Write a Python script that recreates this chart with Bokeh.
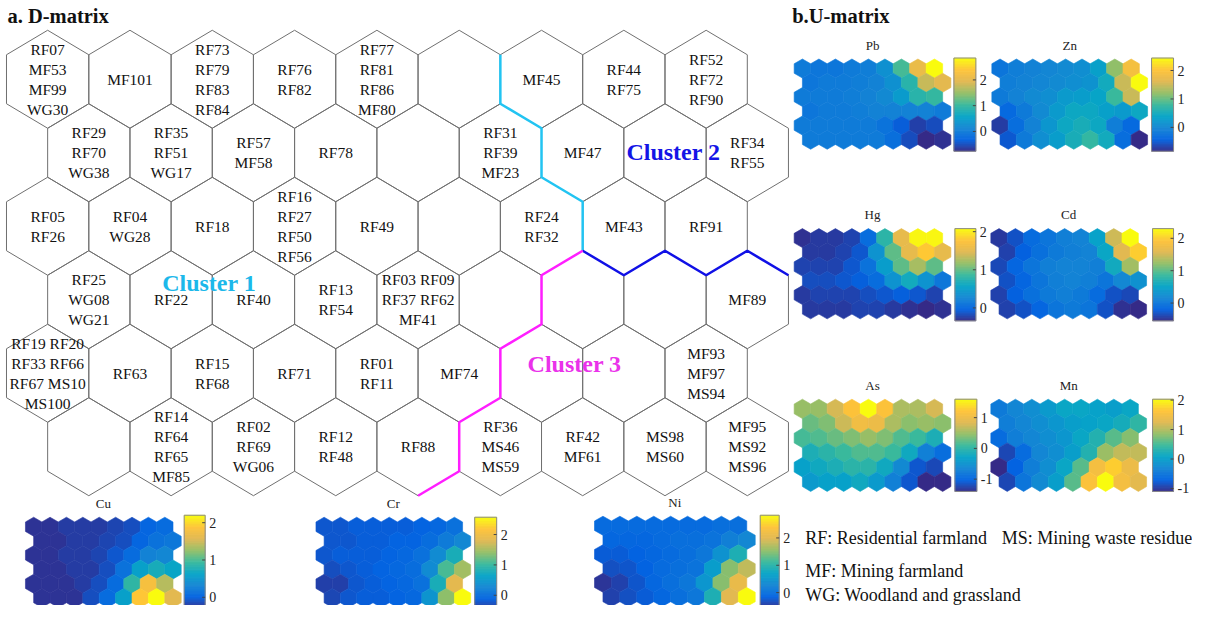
import numpy as np
from bokeh.plotting import figure
from bokeh.models import Range1d, ColumnDataSource, LinearColorMapper
from bokeh.transform import transform
from bokeh.core.properties import value
from bokeh.embed import file_html
from bokeh.resources import INLINE

# ---------------- data ----------------
D_LABELS = [
    ["RF07\nMF53\nMF99\nWG30", "MF101", "RF73\nRF79\nRF83\nRF84", "RF76\nRF82",
     "RF77\nRF81\nRF86\nMF80", "", "MF45", "RF44\nRF75", "RF52\nRF72\nRF90"],
    ["RF29\nRF70\nWG38", "RF35\nRF51\nWG17", "RF57\nMF58", "RF78", "",
     "RF31\nRF39\nMF23", "MF47", "", "RF34\nRF55"],
    ["RF05\nRF26", "RF04\nWG28", "RF18", "RF16\nRF27\nRF50\nRF56", "RF49", "",
     "RF24\nRF32", "MF43", "RF91"],
    ["RF25\nWG08\nWG21", "RF22", "RF40", "RF13\nRF54", "RF03 RF09\nRF37 RF62\nMF41",
     "", "", "", "MF89"],
    ["RF19 RF20\nRF33 RF66\nRF67 MS10\nMS100", "RF63", "RF15\nRF68", "RF71",
     "RF01\nRF11", "MF74", "", "", "MF93\nMF97\nMS94"],
    ["", "RF14\nRF64\nRF65\nMF85", "RF02\nRF69\nWG06", "RF12\nRF48", "RF88",
     "RF36\nMS46\nMS59", "RF42\nMF61", "MS98\nMS60", "MF95\nMS92\nMS96"],
]

CLUSTER_NAMES = ["Cluster 1", "Cluster 2", "Cluster 3"]

ELEMENTS = ["Pb", "Zn", "Hg", "Cd", "As", "Mn", "Cu", "Cr", "Ni"]

PB = [[0.0, -0.05, -0.05, 0.0, 0.05, 0.3, 1.1, 2.1, 2.85],
      [-0.05, 0.0, 0.0, 0.05, 0.1, 0.3, 0.9, 1.8, 2.0],
      [0.0, 0.0, 0.0, 0.05, 0.1, 0.2, 0.45, 0.9, 1.0],
      [-0.05, 0.0, 0.0, 0.05, 0.1, 0.1, 0.1, 0.1, 0.0],
      [0.0, 0.0, 0.0, 0.0, 0.0, -0.1, -0.35, -0.6, -0.5],
      [0.0, 0.0, 0.0, 0.0, 0.0, -0.15, -0.5, -0.77, -0.7]]
ZN = [[-0.2, -0.1, -0.05, 0.0, 0.05, 0.1, 0.35, 1.2, 1.9],
      [-0.1, -0.05, 0.0, 0.05, 0.1, 0.15, 0.5, 1.5, 2.44],
      [-0.15, -0.05, 0.05, 0.1, 0.25, 0.3, 0.4, 0.8, 1.5],
      [-0.35, -0.15, 0.05, 0.25, 0.45, 0.45, 0.35, 0.25, 0.45],
      [-0.7, -0.3, -0.05, 0.2, 0.45, 0.55, 0.45, -0.1, -0.35],
      [-0.5, -0.15, 0.1, 0.3, 0.55, 0.75, 0.5, -0.3, -0.84]]
HG = [[-0.3, -0.25, -0.25, -0.2, 0.05, 0.8, 1.55, 2.05, 2.05],
      [-0.25, -0.25, -0.2, -0.1, 0.4, 1.0, 1.55, 1.8, 1.55],
      [-0.2, -0.2, -0.2, -0.1, 0.1, 0.5, 1.0, 1.25, 1.0],
      [-0.15, -0.15, -0.1, -0.05, 0.05, 0.4, 0.65, 0.4, 0.15],
      [-0.25, -0.2, -0.2, -0.2, -0.15, -0.1, -0.05, -0.1, -0.2],
      [-0.25, -0.25, -0.25, -0.2, -0.2, -0.25, -0.3, -0.34, -0.3]]
CD = [[-0.45, -0.3, -0.1, 0.0, 0.1, 0.15, 0.5, 1.5, 2.3],
      [-0.4, -0.2, -0.05, 0.05, 0.1, 0.15, 0.55, 1.6, 2.0],
      [-0.35, -0.15, 0.0, 0.1, 0.15, 0.15, 0.1, 0.6, 1.3],
      [-0.3, -0.15, 0.0, 0.1, 0.15, 0.1, 0.0, 0.2, 0.3],
      [-0.4, -0.2, -0.05, 0.05, 0.1, 0.05, -0.1, -0.3, -0.35],
      [-0.4, -0.3, -0.15, 0.0, 0.05, 0.0, -0.3, -0.5, -0.55]]
AS = [[0.5, 0.5, 0.8, 1.2, 1.6, 1.2, 0.6, 0.6, 0.8],
      [0.3, 0.4, 0.75, 1.05, 1.0, 0.6, 0.45, 0.5, 0.45],
      [0.15, 0.2, 0.3, 0.4, 0.5, 0.4, 0.2, 0.1, -0.1],
      [-0.1, 0.0, 0.1, 0.2, 0.2, 0.1, -0.2, -0.7, -0.9],
      [-0.3, -0.2, -0.1, 0.0, 0.0, -0.2, -0.6, -1.1, -1.2],
      [-0.4, -0.3, -0.3, -0.2, -0.4, -0.7, -1.1, -1.4, -1.4]]
MN = [[-0.45, -0.3, -0.2, -0.05, 0.1, 0.1, 0.05, 0.0, 0.1],
      [-0.4, -0.3, -0.2, -0.1, 0.0, 0.05, 0.1, 0.2, 0.4],
      [-0.6, -0.4, -0.3, -0.2, -0.1, 0.1, 0.3, 0.6, 0.8],
      [-0.9, -0.6, -0.3, -0.2, 0.0, 0.3, 0.9, 1.1, 1.1],
      [-1.1, -0.7, -0.4, -0.2, 0.1, 0.6, 1.5, 1.7, 1.4],
      [-0.9, -0.5, -0.25, 0.0, 0.6, 1.6, 2.03, 1.5, 1.3]]
CU = [[-0.25, -0.25, -0.2, -0.2, -0.2, -0.15, -0.1, 0.05, 0.1],
      [-0.25, -0.25, -0.2, -0.2, -0.15, -0.1, 0.05, 0.15, 0.2],
      [-0.25, -0.25, -0.2, -0.2, -0.15, -0.05, 0.1, 0.3, 0.35],
      [-0.25, -0.25, -0.2, -0.2, -0.1, 0.15, 0.6, 0.75, 0.65],
      [-0.25, -0.25, -0.25, -0.2, -0.1, 0.1, 0.9, 1.8, 1.4],
      [-0.25, -0.25, -0.25, -0.1, 0.1, 0.6, 1.9, 2.2, 1.6]]
CR = [[-0.2, -0.2, -0.15, -0.15, -0.15, -0.15, -0.1, -0.05, 0.05],
      [-0.2, -0.2, -0.15, -0.15, -0.1, -0.1, 0.0, 0.15, 0.3],
      [-0.2, -0.15, -0.15, -0.15, -0.1, -0.05, 0.05, 0.35, 0.8],
      [-0.25, -0.2, -0.15, -0.1, -0.05, 0.0, 0.35, 1.1, 1.5],
      [-0.35, -0.35, -0.2, -0.15, -0.1, -0.05, 0.05, 0.8, 1.85],
      [-0.3, -0.2, -0.15, -0.15, -0.1, -0.05, 0.45, 1.4, 2.57]]
NI = [[-0.05, -0.05, -0.05, -0.05, -0.05, -0.05, -0.05, 0.0, 0.0],
      [-0.1, -0.1, -0.1, -0.05, 0.0, 0.0, 0.05, 0.2, 0.3],
      [-0.2, -0.2, -0.15, -0.1, -0.05, 0.0, 0.1, 0.45, 0.9],
      [-0.3, -0.25, -0.15, -0.05, 0.0, 0.05, 0.6, 1.5, 1.8],
      [-0.5, -0.4, -0.25, -0.1, 0.0, 0.1, 0.5, 1.5, 2.1],
      [-0.4, -0.3, -0.2, -0.1, 0.0, 0.1, 0.9, 2.0, 2.83]]
VALUES = [PB, ZN, HG, CD, AS, MN, CU, CR, NI]

CB_LOW = [-0.77, -0.84, -0.34, -0.55, -1.4, -1.1, -0.3, -0.5, -0.58]
CB_HIGH = [2.85, 2.44, 2.08, 2.3, 1.6, 2.03, 2.2, 2.57, 2.83]
CB_TICKS = [[0, 1, 2], [0, 1, 2], [0, 1, 2], [0, 1, 2], [-1, 0, 1],
            [-1, 0, 1, 2], [0, 1, 2], [0, 1, 2], [0, 1, 2]]

LEGEND_TEXTS = ["RF: Residential farmland", "MS: Mining waste residue",
                "MF: Mining farmland", "WG: Woodland and grassland"]

# ---------------- layout (pixel positions of the reference) ----------------
MAP_BOX = [(797, 61, 157, 91), (995, 61, 156, 91), (797, 232, 157, 91),
           (994, 232, 156, 91), (797, 404, 157, 93), (994, 404, 156, 93),
           (27, 523, 156, 91), (318, 523, 155, 91), (597, 522, 161, 91)]
CB_BOX = [(957, 979, 60, 154), (1155, 1177, 60, 154), (958, 979, 232, 325),
          (1156, 1177, 232, 325), (958, 980, 404, 497), (1156, 1177, 404, 497),
          (186, 207, 521, 615), (477, 499, 523, 617), (763, 782, 521, 615)]

SERIF = "Liberation Serif"

# parula-like palette
anchors = [(0.0, (53, 42, 135)), (0.125, (3, 99, 225)), (0.25, (20, 133, 212)),
           (0.375, (6, 164, 200)), (0.5, (56, 185, 157)), (0.625, (146, 191, 104)),
           (0.75, (224, 184, 82)), (0.875, (254, 195, 56)), (1.0, (249, 251, 14))]
at = np.array([a[0] for a in anchors])
ac = np.array([a[1] for a in anchors], dtype=float)
PARULA = []
for t in np.linspace(0, 1, 256):
    r = np.interp(t, at, ac[:, 0]); g = np.interp(t, at, ac[:, 1]); b = np.interp(t, at, ac[:, 2])
    PARULA.append("#%02x%02x%02x" % (int(round(r)), int(round(g)), int(round(b))))


def hex_poly(cx, cy, w, s):
    hw = w / 2.0
    xs = [cx, cx + hw, cx + hw, cx, cx - hw, cx - hw]
    ys = [cy - s, cy - s / 2, cy + s / 2, cy + s, cy + s / 2, cy - s / 2]
    return xs, ys


def hex_center(r, c, x0, y0, w, s):
    cx = x0 + w / 2 + c * w + (w / 2 if r % 2 else 0)
    cy = y0 + s + r * 1.5 * s
    return cx, cy


p = figure(width=1192, height=605, x_range=Range1d(2, 1196), y_range=Range1d(612, 2),
           output_backend="svg", toolbar_location=None, min_border=0,
           x_axis_type=None, y_axis_type=None)
p.outline_line_color = None
p.xgrid.grid_line_color = None
p.ygrid.grid_line_color = None

# ---------------- D-matrix ----------------
DX0, DY0, DW, DS = 8, 32, 82.45, 49.4
hx, hy, tx, ty, tt = [], [], [], [], []
for r, row in enumerate(D_LABELS):
    for c, lab in enumerate(row):
        cx, cy = hex_center(r, c, DX0, DY0, DW, DS)
        xs, ys = hex_poly(cx, cy, DW, DS)
        hx.append(xs); hy.append(ys)
        if lab:
            tx.append(cx); ty.append(cy); tt.append(lab)
p.patches(hx, hy, fill_color=None, line_color="#707070", line_width=1)
p.text(tx, ty, text=tt, text_font=value(SERIF), text_font_size="15.5px",
       text_align="center", text_baseline="middle", text_color="#111111",
       text_line_height=1.17)


def vert(r, c, k):
    cx, cy = hex_center(r, c, DX0, DY0, DW, DS)
    xs, ys = hex_poly(cx, cy, DW, DS)
    return xs[k], ys[k]


# cluster boundaries as (row, col, vertex) along hex edges
CYAN_PATH = [(0, 6, 5), (0, 6, 4), (0, 6, 3), (1, 6, 4), (1, 6, 3), (2, 7, 4)]
BLUE_PATH = [(2, 7, 4), (2, 7, 3), (2, 7, 2), (2, 8, 3), (2, 8, 2), (3, 8, 1)]
MAGENTA_PATH = [(2, 7, 4), (2, 6, 3), (3, 5, 2), (3, 5, 3), (4, 5, 2), (4, 5, 3),
                (5, 4, 2), (5, 4, 3)]
for path, col in [(CYAN_PATH, "#22c4f2"), (BLUE_PATH, "#1010e6"), (MAGENTA_PATH, "#ff1eff")]:
    pts = [vert(*v) for v in path]
    p.line([q[0] for q in pts], [q[1] for q in pts], line_color=col, line_width=2.5)

p.text([211, 676, 577], [287, 155, 369], text=CLUSTER_NAMES, text_font=value(SERIF),
       text_font_size="24px", text_font_style="bold", text_align="center",
       text_baseline="middle", text_color=["#1cb8ea", "#1414e6", "#ea32ea"])

p.text([9, 795], [18, 18], text=["a. D-matrix", "b.U-matrix"], text_font=value(SERIF),
       text_font_size="20.5px", text_font_style="bold", text_align="left",
       text_baseline="middle", text_color="#111111")

# ---------------- U-matrix component planes ----------------
for name, vals, lo, hi, ticks, box, cb in zip(ELEMENTS, VALUES, CB_LOW, CB_HIGH,
                                              CB_TICKS, MAP_BOX, CB_BOX):
    mapper = LinearColorMapper(palette=PARULA, low=lo, high=hi)
    x0, y0, wt, ht = box
    w = wt / 9.5
    s = ht / 9.5
    xs_l, ys_l, v_l = [], [], []
    for r, row in enumerate(vals):
        for c, v in enumerate(row):
            cx, cy = hex_center(r, c, x0, y0, w, s)
            xs, ys = hex_poly(cx, cy, w, s)
            xs_l.append(xs); ys_l.append(ys); v_l.append(v)
    src = ColumnDataSource(dict(xs=xs_l, ys=ys_l, v=v_l))
    p.patches("xs", "ys", source=src, fill_color=transform("v", mapper),
              line_color=transform("v", mapper), line_width=0.6)
    p.text([x0 + wt / 2], [y0 - 14], text=[name], text_font=value(SERIF),
           text_font_size="13px", text_align="center", text_baseline="middle",
           text_color="#222222")
    cl, cr, ct, cbm = cb
    edges = np.linspace(lo, hi, 129)

    def ypos(v):
        return cbm - (v - lo) / (hi - lo) * (cbm - ct)
    csrc = ColumnDataSource(dict(top=[ypos(e) for e in edges[1:]],
                                 bottom=[ypos(e) for e in edges[:-1]],
                                 v=list((edges[1:] + edges[:-1]) / 2)))
    p.quad(left=cl, right=cr, top="top", bottom="bottom", source=csrc,
           fill_color=transform("v", mapper), line_color=transform("v", mapper),
           line_width=0.5)
    p.quad(left=[cl], right=[cr], top=[ct], bottom=[cbm], fill_color=None,
           line_color="#8a8a8a", line_width=1)
    tys = [ypos(t) for t in ticks]
    p.segment(x0=[cr - 3] * len(ticks), x1=[cr] * len(ticks), y0=tys, y1=tys,
              line_color="#444444", line_width=1)
    p.text([cr + 4] * len(ticks), tys, text=[str(t) for t in ticks],
           text_font=value(SERIF), text_font_size="14px", text_align="left",
           text_baseline="middle", text_color="#222222")

# ---------------- legend text ----------------
p.text([808, 1005, 808, 808], [544, 544, 577, 601], text=LEGEND_TEXTS,
       text_font=value(SERIF), text_font_size="18px", text_align="left",
       text_baseline="middle", text_color="#111111")

open("out.html", "w").write(file_html(p, INLINE))
